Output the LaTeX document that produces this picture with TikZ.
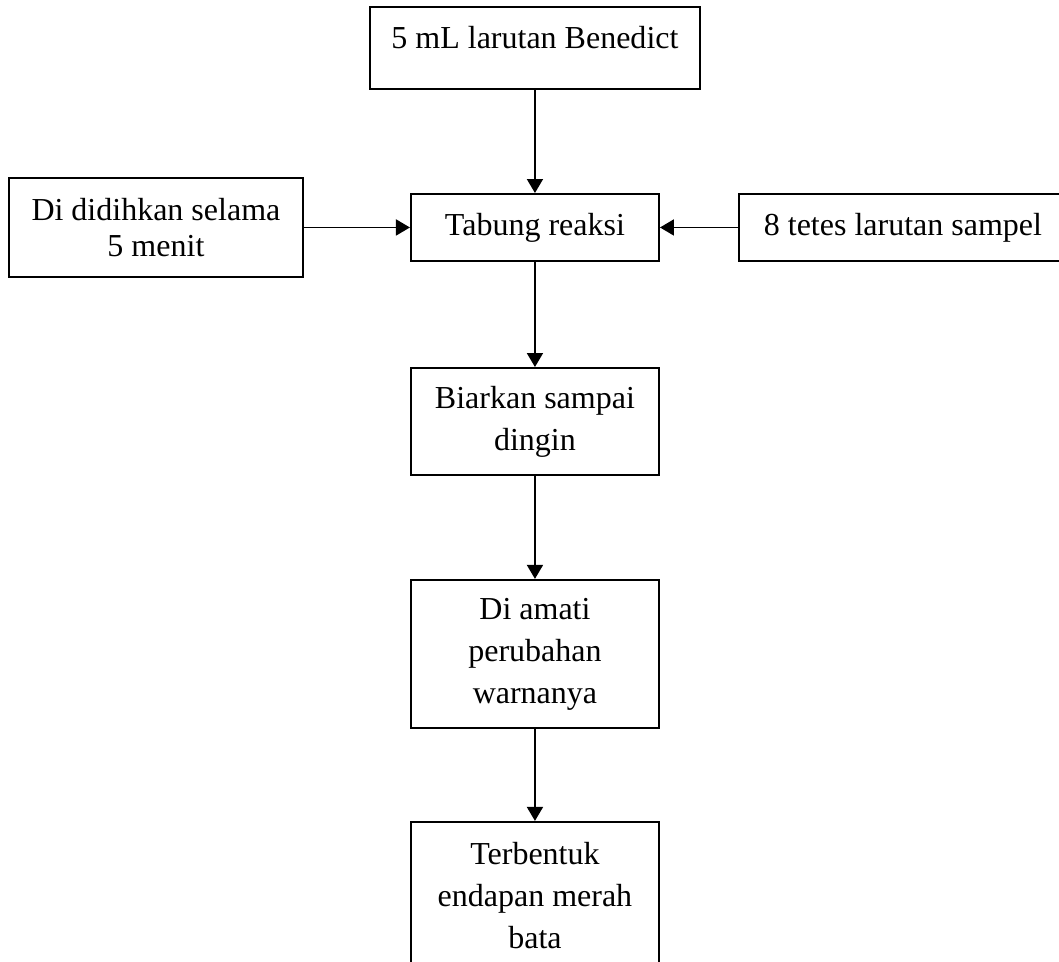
\documentclass[tikz,border=0pt]{standalone}
\usepackage{fontspec}
\setmainfont{Liberation Serif}
\usetikzlibrary{positioning,arrows.meta}

\tikzset{
  kotak/.style={draw, line width=0.75pt, align=center, inner sep=2pt,
    font=\fontsize{12}{15.75}\selectfont, minimum width=93pt},
  panah/.style={-{Triangle[length=5.25pt,width=6pt]}, line width=0.7pt},
}

\begin{document}
\begin{tikzpicture}
            \useasboundingbox (-200.6pt,-275.4pt) rectangle (196.5pt,85.3pt);
            \node [kotak, minimum height=25.1pt] (tr) {Tabung reaksi};
            \node [kotak, above=38.6pt of tr, minimum width=123.4pt, minimum height=30.75pt,
                   text height=8pt, text depth=8pt] (bn) {5 mL larutan Benedict};
            \node [kotak, left=39.75pt of tr, minimum width=110.25pt, minimum height=37.1pt,
                   font=\fontsize{12}{13.8}\selectfont] (dd) {Di didihkan selama\\5 menit};
            \node [kotak, right=29.25pt of tr, minimum width=123pt, minimum height=25.1pt] (sp) {8 tetes larutan sampel};
            \node [kotak, below=39.4pt of tr, minimum height=40.1pt] (bd) {Biarkan sampai\\dingin};
            \node [kotak, below=38.6pt of bd, minimum height=55.5pt] (da) {Di amati\\perubahan\\warnanya};
            \node [kotak, below=34.5pt of da, minimum height=55.5pt] (te) {Terbentuk\\endapan merah\\bata};
            \draw [panah] (bn) -- (tr);
            \draw [panah] (dd) -- (tr);
            \draw [panah] (sp) -- (tr);
            \draw [panah] (tr) -- (bd);
            \draw [panah] (bd) -- (da);
            \draw [panah] (da) -- (te);
\end{tikzpicture}
\end{document}
